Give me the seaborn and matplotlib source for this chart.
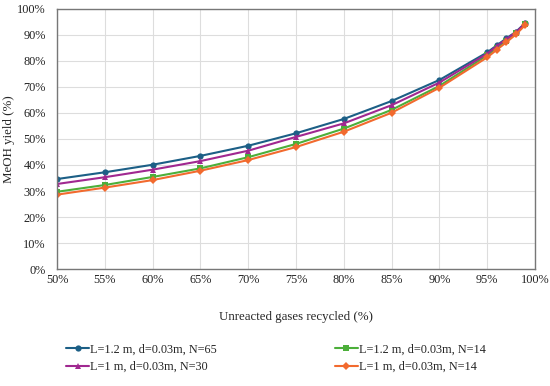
import numpy as np
import pandas as pd
import matplotlib
matplotlib.use("Agg")
import matplotlib.pyplot as plt
import seaborn as sns
from matplotlib.ticker import PercentFormatter

recycled = [50, 55, 60, 65, 70, 75, 80, 85, 90, 95, 96, 97, 98, 99]
s_l12_n65 = [34.6, 37.2, 40.1, 43.5, 47.4, 52.2, 57.7, 64.6, 72.7, 83.3, 86.0, 88.7, 91.2, 94.7]
s_l12_n14 = [29.7, 32.3, 35.4, 38.7, 43.0, 48.1, 54.0, 61.2, 70.4, 82.2, 85.0, 87.8, 90.6, 94.3]
s_l1_n30 = [32.7, 35.3, 38.2, 41.5, 45.5, 50.8, 56.0, 63.0, 71.7, 82.8, 85.7, 88.4, 91.0, 94.5]
s_l1_n14 = [28.6, 31.3, 34.2, 37.8, 41.9, 46.9, 52.8, 60.1, 69.7, 81.4, 84.3, 87.2, 90.2, 93.9]
labels = ["L=1.2 m, d=0.03m, N=65", "L=1.2 m, d=0.03m, N=14",
          "L=1 m, d=0.03m, N=30", "L=1 m, d=0.03m, N=14"]
series = [s_l12_n65, s_l12_n14, s_l1_n30, s_l1_n14]

rows = []
for lab, vals in zip(labels, series):
    for x, v in zip(recycled, vals):
        rows.append({"x": x, "y": v, "series": lab})
df = pd.DataFrame(rows)

sns.set_style("white")
plt.rcParams["font.family"] = ["Liberation Serif", "DejaVu Serif"]

colors = {labels[0]: "#1c5f86", labels[1]: "#4caf3a",
          labels[2]: "#a02890", labels[3]: "#f26a2e"}
markers = {labels[0]: "o", labels[1]: "s", labels[2]: "^", labels[3]: "D"}

fig = plt.figure(figsize=(5.5, 3.86), dpi=100)
ax = fig.add_axes([0.1036, 0.3031, 0.8691, 0.6736])

sns.lineplot(data=df, x="x", y="y", hue="series", style="series",
             hue_order=labels, style_order=labels,
             palette=colors, markers=markers, dashes=False,
             markersize=4.5, markeredgewidth=0, linewidth=1.5, ax=ax, legend=True)

ax.set_xlim(50, 100)
ax.set_ylim(0, 100)
ax.set_xticks(np.arange(50, 101, 5))
ax.set_yticks(np.arange(0, 101, 10))
ax.xaxis.set_major_formatter(PercentFormatter(decimals=0))
ax.yaxis.set_major_formatter(PercentFormatter(decimals=0))
ax.grid(True, color="#dddddd", linewidth=0.8)
for sp in ax.spines.values():
    sp.set_color("#777777")
    sp.set_linewidth(1.0)
ax.tick_params(axis="both", labelsize=8.8, length=0, colors="#222222")
ax.tick_params(axis="y", pad=8.0)
ax.tick_params(axis="x", pad=3.5)
ax.set_xlabel("Unreacted gases recycled (%)", fontsize=9.3, labelpad=18)
ax.set_ylabel("MeOH yield (%)", fontsize=9.3)
ax.yaxis.set_label_coords(-0.087, 0.5)

handles, labs = ax.get_legend_handles_labels()
ax.legend_.remove()
order = [0, 2, 1, 3]
fig.legend([handles[i] for i in order], [labs[i] for i in order],
           loc="lower left", bbox_to_anchor=(0.1, 0.005), ncol=2,
           frameon=False, fontsize=8.8, handlelength=1.9, handletextpad=0.1,
           columnspacing=9.6, labelspacing=0.45)

fig.savefig("out.png", dpi=100)
